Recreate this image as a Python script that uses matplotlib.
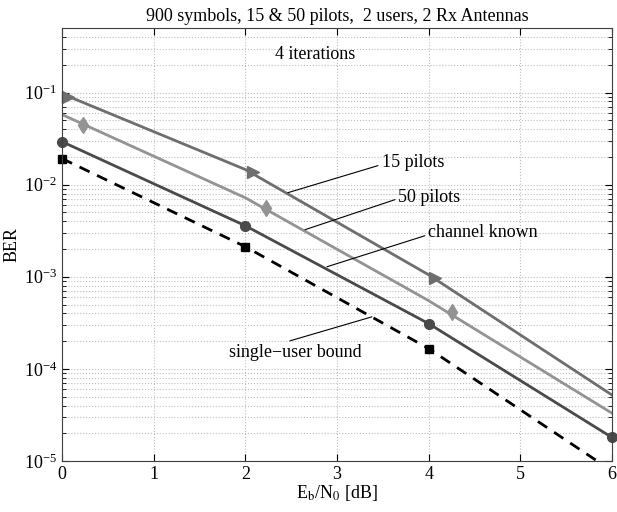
import numpy as np
import matplotlib
matplotlib.use('Agg')
from matplotlib import pyplot as plt

plt.rcParams['font.family'] = ['Liberation Serif', 'DejaVu Serif']
plt.rcParams['mathtext.fontset'] = 'stix'
plt.rcParams['font.size'] = 13

# valores (Eb/N0 em dB, BER)
snr = [0, 2, 4, 6]
ber_15 = [0.097, 0.0146, 0.00105, 5.2e-5]
ber_50 = [0.0577, 0.0072, 0.00055, 3.3e-5]
ber_known = [0.0293, 0.00358, 0.00031, 1.8e-5]
ber_bound = [0.0192, 0.00212, 0.000166, 7.8e-6]

# marcadores deslocados (como no original)
mk15_x = [0.07, 2.08, 4.07]
mk15_y = [0.0905, 0.0138, 0.00097]
mk50_x = [0.23, 2.23, 4.25]
mk50_y = [0.0449, 0.00562, 0.00041]
mkbound_x = [0, 2, 4]
mkbound_y = [0.0192, 0.00212, 0.000166]

fig = plt.figure(figsize=(6.17, 5.12), dpi=100)
ax = fig.add_axes([0.1005, 0.0996, 0.8915, 0.8454])

ax.semilogy(snr, ber_15, color='#6e6e6e', lw=2)
ax.semilogy(mk15_x, mk15_y, ls='none', marker='>', ms=8, color='#6e6e6e', clip_on=False)
ax.semilogy(snr, ber_50, color='#939393', lw=2)
ax.semilogy(mk50_x, mk50_y, ls='none', marker='d', ms=8, color='#939393', clip_on=False)
ax.semilogy(snr, ber_known, color='#4a4a4a', lw=2)
ax.semilogy(snr, ber_known, ls='none', marker='o', ms=7, color='#4a4a4a', clip_on=False)
ax.semilogy(snr, ber_bound, color='black', lw=2, ls=(0, (4, 3)))
ax.semilogy(mkbound_x, mkbound_y, ls='none', marker='s', ms=6, color='black', clip_on=False)

ax.set_xlim(0, 6)
ax.set_ylim(1e-5, 0.5)
ax.set_xticks(range(7))

ax.grid(True, which='major', ls=':', color='#bdbdbd', lw=0.8)
ax.grid(True, which='minor', axis='y', ls=':', color='#bdbdbd', lw=0.8)
ax.tick_params(which='both', direction='in', top=True, right=True)
ax.tick_params(which='major', length=5)
ax.tick_params(which='minor', length=3)
for s in ax.spines.values():
    s.set_color('#404040')

ax.set_title('900 symbols, 15 & 50 pilots,  2 users, 2 Rx Antennas', fontsize=13, pad=5)
ax.set_xlabel(r'E$_\mathrm{b}$/N$_0$ [dB]', labelpad=0)
ax.set_ylabel('BER', labelpad=2)

ax.text(2.32, 0.26, '4 iterations', va='center', ha='left')

def px(x, y):
    # pixel -> dados
    return ((x - 62) / 91.7, 10 ** (-1 - (y - 93) / 92.0))

notas = [('15 pilots', (288, 193), (378, 166)),
         ('50 pilots', (305, 230), (395, 200)),
         ('channel known', (327, 267), (425, 236)),
         ('single\u2212user bound', (372, 317), (290, 341))]
for txt, p0, p1 in notas:
    ax.annotate('', xy=px(*p0), xytext=px(*p1),
                arrowprops=dict(arrowstyle='-', color='black', lw=0.8, shrinkA=0, shrinkB=0))
ha = ['left', 'left', 'left', 'center']
pos = [(382, 163), (398, 198), (428, 233), (295, 353)]
for (txt, _, _), h, p in zip(notas, ha, pos):
    ax.text(*px(*p), txt, ha=h, va='center')

fig.savefig('out.png', dpi=100)
